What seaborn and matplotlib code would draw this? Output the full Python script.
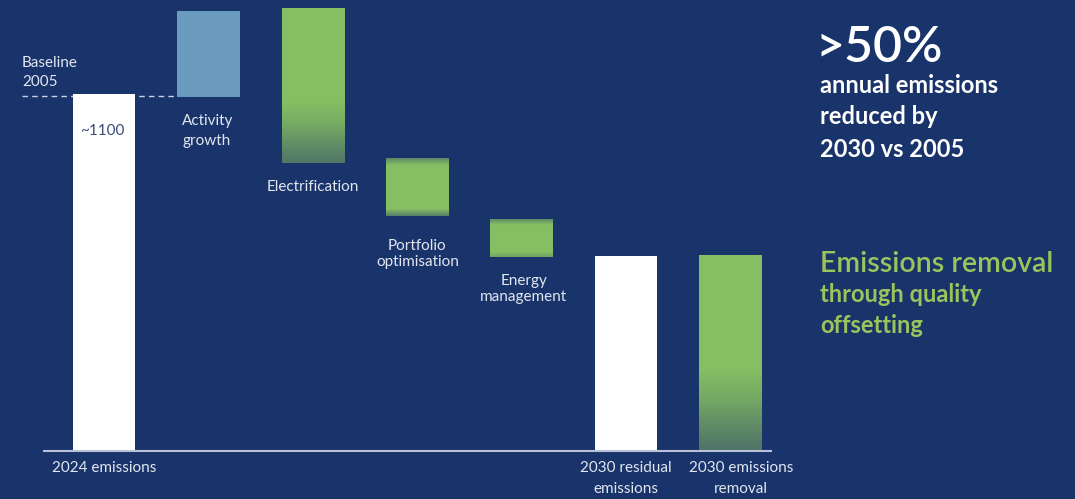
import numpy as np
import pandas as pd
import matplotlib.pyplot as plt
import seaborn as sns
from matplotlib.colors import LinearSegmentedColormap

# Waterfall steps (emissions, same units as the "~1100" label)
steps = ['2024 emissions', 'Activity growth', 'Electrification', 'Portfolio optimisation',
         'Energy management', '2030 residual emissions', '2030 emissions removal']
step_bottoms = [0, 1090, 887, 724, 598, 0, 0]
step_tops = [1100, 1355, 1365, 903, 715, 601, 604]
baseline_2005 = 1095

# text shown with the bars
bottom_labels = {0: '2024 emissions', 5: '2030 residual\nemissions', 6: '2030 emissions\nremoval'}
side_labels = {1: 'Activity\ngrowth', 2: 'Electrification', 3: 'Portfolio\noptimisation', 4: 'Energy\nmanagement'}

BG = '#19336b'
GREEN = '#86bf63'
WHITE = '#ffffff'
LABEL = '#e2e6ef'
LIME = '#9cc45d'

sns.set_theme(style='white')
plt.rcParams['font.family'] = ['Lato', 'DejaVu Sans']

df = pd.DataFrame({'step': steps,
                   'height': np.subtract(step_tops, step_bottoms),
                   'bottom': step_bottoms})

fig = plt.figure(figsize=(10.75, 4.99), dpi=100, facecolor=BG)
ax = fig.add_axes([44 / 1075, 48 / 499, 727 / 1075, 451 / 499])
ax.set_facecolor(BG)

sns.barplot(data=df, x='step', y='height', bottom=df['bottom'].values, width=0.6,
            color=WHITE, saturation=1, linewidth=0, ax=ax)

# colours / gradients per bar (stops from bar bottom to top)
fills = [WHITE, '#6a9bbe',
         [(0, '#507668'), (0.12, '#628f66'), (0.26, '#78ad64'), (0.4, GREEN), (1, GREEN)],
         [(0, '#557d68'), (0.12, GREEN), (0.86, GREEN), (1, '#577f69')],
         [(0, '#6f9f66'), (0.13, GREEN), (0.85, GREEN), (1, '#5f8a68')],
         WHITE,
         [(0, '#4e7468'), (0.12, '#5e8966'), (0.26, '#74a864'), (0.42, GREEN), (1, GREEN)]]

for patch, fill in zip(ax.patches, fills):
    if isinstance(fill, str):
        patch.set_facecolor(fill)
        continue
    patch.set_facecolor('none')
    cmap = LinearSegmentedColormap.from_list('grad', fill)
    x0, y0 = patch.get_x(), patch.get_y()
    im = ax.imshow(np.linspace(0, 1, 256).reshape(-1, 1), cmap=cmap, origin='lower',
                   aspect='auto', extent=(x0, x0 + patch.get_width(), y0, y0 + patch.get_height()),
                   zorder=patch.get_zorder())
    im.set_clip_path(patch)

# 2005 baseline dashes
ax.plot([-0.785, 0.7], [baseline_2005, baseline_2005], color='#c9d0e2', lw=1,
        dashes=(4, 3), clip_on=False, zorder=0.5)
ax.text(-0.785, 1166, 'Baseline\n2005', color=LABEL, fontsize=11, ha='left', va='center',
        linespacing=1.5, clip_on=False)
ax.text(-0.23, 986, '~1100', color='#3b4a78', fontsize=11, ha='left', va='center')

# labels next to the floating bars
ax.text(0.747, 1038, side_labels[1], color=LABEL, fontsize=11, ha='left', va='top', linespacing=1.55)
ax.text(2, 813, side_labels[2], color=LABEL, fontsize=11, ha='center', va='center')
ax.text(3, 606, side_labels[3], color=LABEL, fontsize=11, ha='center', va='center', linespacing=1.2)
ax.text(4.02, 498, side_labels[4], color=LABEL, fontsize=11, ha='center', va='center', linespacing=1.2)

# labels under the axis
for i, lab in bottom_labels.items():
    xpos = i + (0.1 if i == 6 else 0)
    ax.text(xpos, -30, lab, color=LABEL, fontsize=11, ha='center', va='top', linespacing=1.7)

ax.set_xlim(-0.575, 6.387)
ax.set_ylim(0, 1389.6)
ax.set_xticks([])
ax.set_yticks([])
ax.set_xlabel('')
ax.set_ylabel('')
for side in ['top', 'left', 'right']:
    ax.spines[side].set_visible(False)
ax.spines['bottom'].set_color('#b9c2d8')
ax.spines['bottom'].set_linewidth(1.5)

# right-hand call-outs
fx = 820 / 1075
fig.text(fx - 5 / 1075, 1 - 62 / 499, '>50%', color=WHITE, fontsize=36, weight='semibold', va='baseline')
fig.text(fx, 1 - 93 / 499, 'annual emissions', color=WHITE, fontsize=17, weight='bold', va='baseline')
fig.text(fx, 1 - 124 / 499, 'reduced by', color=WHITE, fontsize=17, weight='bold', va='baseline')
fig.text(fx, 1 - 157 / 499, '2030 vs 2005', color=WHITE, fontsize=17, weight='bold', va='baseline')
fig.text(fx, 1 - 272 / 499, 'Emissions removal', color=LIME, fontsize=20.5, weight='semibold', va='baseline')
fig.text(fx, 1 - 302 / 499, 'through quality', color=LIME, fontsize=17, weight='bold', va='baseline')
fig.text(fx, 1 - 333 / 499, 'offsetting', color=LIME, fontsize=17, weight='bold', va='baseline')

fig.savefig('out.png', dpi=100, facecolor=BG)
